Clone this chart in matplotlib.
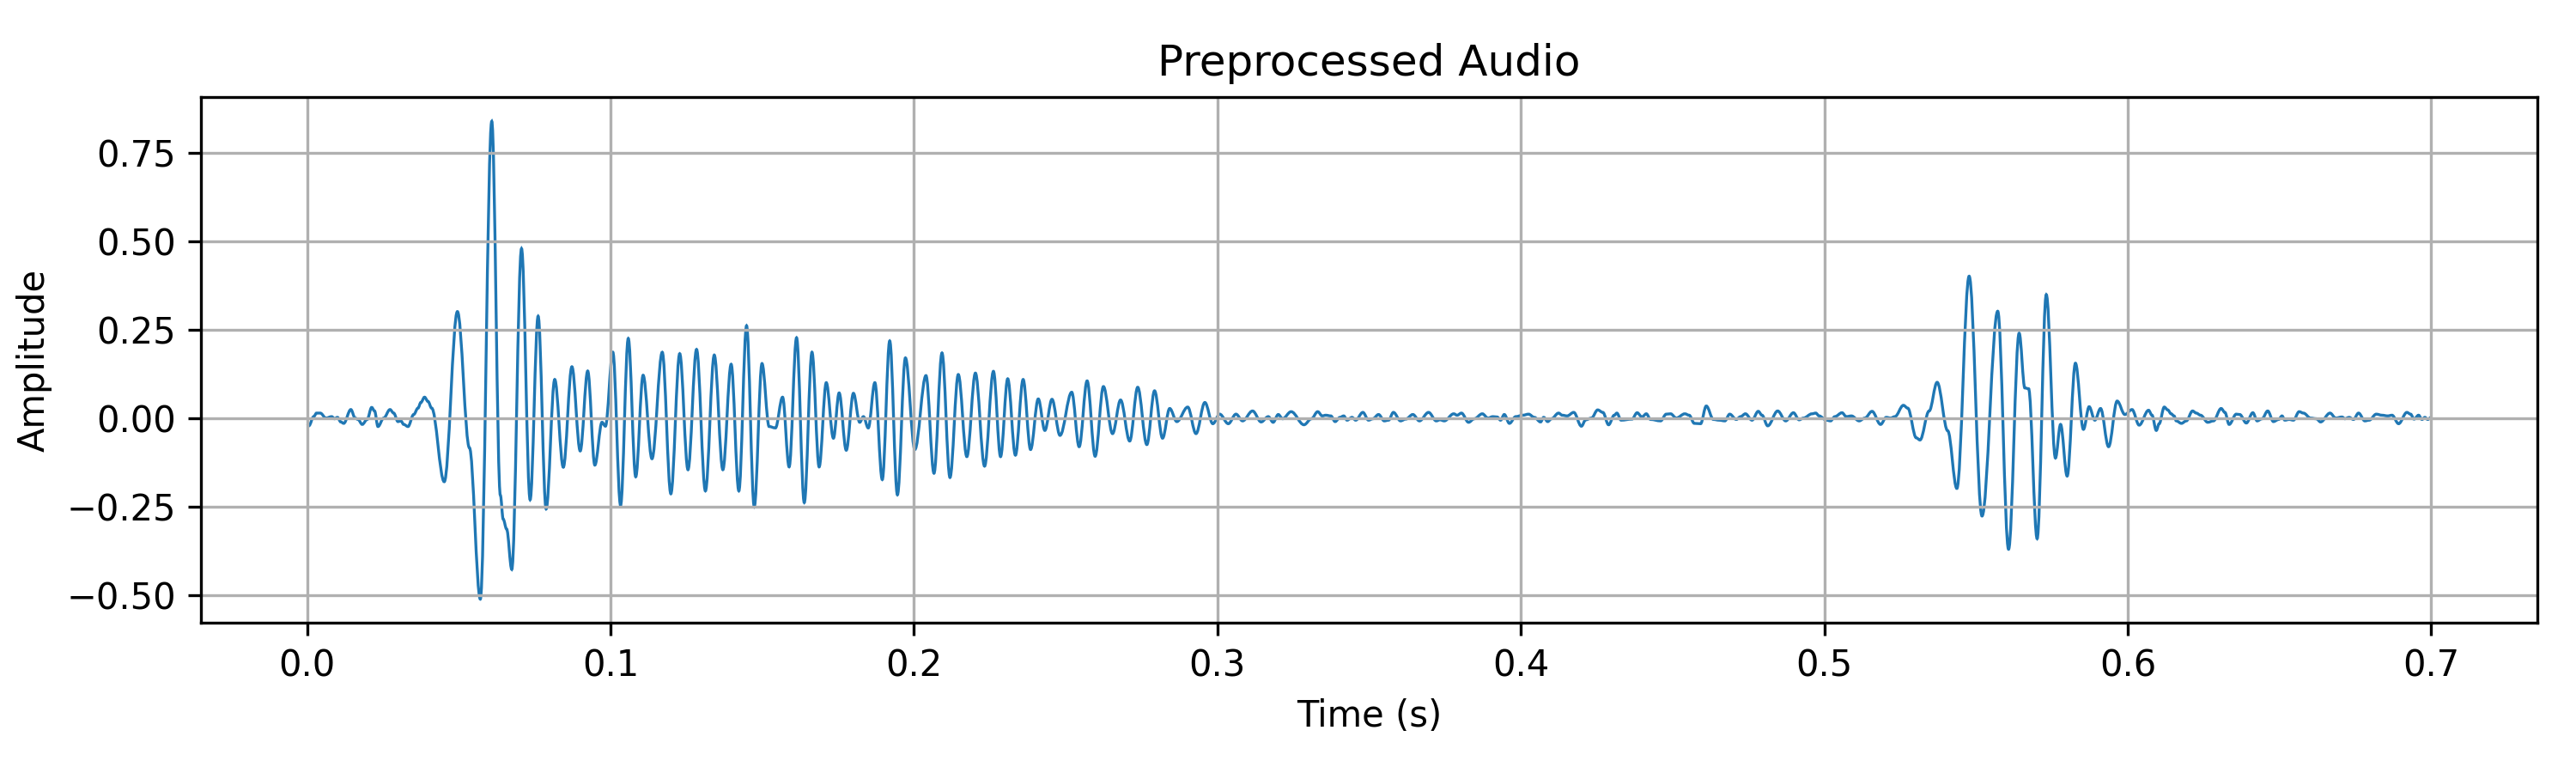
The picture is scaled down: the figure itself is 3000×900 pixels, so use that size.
import matplotlib
matplotlib.use("Agg")
import matplotlib.pyplot as plt
from matplotlib.path import Path
from matplotlib.patches import PathPatch
import numpy as np

# waveform turning points (time in ms, amplitude)
onset_t = [0.0, 0.56, 2.17, 3.11, 4.33, 6.21, 8.10, 9.04, 9.98, 11.11, 12.05, 14.41, 15.82, 16.76,
           18.17, 19.77, 21.28, 22.22, 23.35, 25.24, 27.31, 28.53, 29.94, 30.89, 31.83, 33.24,
           35.12, 36.53, 37.48, 38.70, 39.83, 41.05]
onset_a = [-0.016, -0.022, 0.004, 0.014, 0.014, 0.000, 0.004, -0.002, 0.002, -0.011, -0.015, 0.024,
           0.000, -0.004, -0.018, -0.004, 0.030, 0.020, -0.024, 0.000, 0.024, 0.014, -0.010, -0.008,
           -0.018, -0.024, 0.010, 0.028, 0.044, 0.059, 0.047, 0.028]

burst1_t = [45.19, 49.53, 53.49, 57.08, 60.85, 63.68, 64.62, 65.75, 67.45, 70.66, 73.49, 76.13,
            78.77, 81.60, 84.43, 87.26, 90.00, 92.47, 94.82, 97.18, 98.31, 100.75, 103.30, 105.84,
            108.29, 110.73, 113.65, 117.04, 119.87, 122.79, 125.52, 128.34, 131.26, 134.18, 137.01,
            139.74, 142.28, 144.82, 147.36, 149.91, 152.26, 154.33, 156.69, 158.85, 161.30, 163.84,
            166.38, 168.74, 171.09, 173.45, 175.33, 177.68, 180.04, 182.11, 183.33, 184.93, 187.10,
            189.55, 192.00, 194.54, 197.18, 200.28, 203.95, 206.59, 209.23, 211.86, 214.60, 217.42,
            220.24, 223.26, 226.18, 228.53, 230.89, 233.43, 235.97, 238.42, 240.96, 243.13, 245.48,
            248.12, 251.98, 254.43, 257.06, 259.70, 262.43, 265.44, 268.08, 271.09, 273.73, 276.74,
            279.28, 281.92, 284.27, 286.63, 290.21, 292.94, 295.86, 298.49]
burst1_a = [-0.180, 0.301, -0.084, -0.512, 0.839, -0.218, -0.286, -0.314, -0.428, 0.479, -0.231,
            0.288, -0.257, 0.109, -0.139, 0.145, -0.093, 0.133, -0.133, -0.012, -0.023, 0.186,
            -0.247, 0.225, -0.166, 0.121, -0.115, 0.186, -0.214, 0.182, -0.146, 0.194, -0.206,
            0.178, -0.146, 0.152, -0.206, 0.261, -0.251, 0.154, -0.024, -0.028, 0.059, -0.138,
            0.227, -0.239, 0.186, -0.138, 0.100, -0.057, 0.071, -0.091, 0.070, -0.012, 0.004,
            -0.028, 0.100, -0.174, 0.218, -0.217, 0.170, -0.089, 0.120, -0.156, 0.184, -0.168,
            0.123, -0.109, 0.127, -0.136, 0.132, -0.109, 0.111, -0.105, 0.109, -0.089, 0.054,
            -0.035, 0.053, -0.049, 0.073, -0.081, 0.105, -0.108, 0.089, -0.044, 0.051, -0.065,
            0.087, -0.075, 0.077, -0.057, 0.027, -0.010, 0.031, -0.044, 0.044, -0.016]

quiet_t = [300.75, 303.58, 306.12, 308.29, 311.58, 314.41, 316.76, 318.36, 320.06, 321.47, 324.29,
           328.53, 330.98, 333.05, 334.56, 335.69, 337.38, 338.79, 340.40, 341.62, 342.75, 344.35,
           345.57, 347.93, 349.81, 351.22, 353.11, 354.99, 356.40, 358.00, 360.36, 362.05, 364.41,
           366.57, 369.59, 372.13, 373.35, 374.76, 377.87, 379.00, 380.41, 382.77, 384.65, 387.29,
           389.17, 390.77, 392.18, 393.31, 394.54, 396.23, 398.31, 400.66, 402.54, 404.43, 406.50,
           407.53, 408.85, 410.08, 412.43, 413.65, 415.25, 417.42, 419.96, 421.37, 423.26, 425.33,
           427.02, 428.91, 430.79, 431.64, 433.05, 436.63, 438.32, 439.92, 441.34, 442.75, 446.05,
           447.93, 449.34, 451.22, 454.05, 455.46, 457.16, 459.23, 461.11, 463.47, 465.35, 467.23,
           468.83, 471.00, 472.41, 474.01, 476.18, 478.25, 479.47, 481.36, 484.65, 487.29, 489.83,
           491.71, 493.13, 495.95, 497.18, 498.31, 500.66, 502.07, 503.48, 505.84, 507.25, 508.95,
           511.49, 513.37, 515.73, 518.55, 520.43, 521.85, 523.26, 526.08, 527.50]
quiet_a = [0.011, -0.016, 0.011, -0.008, 0.020, -0.011, 0.004, -0.012, 0.010, -0.002, 0.018,
           -0.019, -0.002, 0.018, 0.006, 0.008, 0.006, -0.010, 0.002, 0.006, -0.006, 0.002,
           -0.006, 0.016, -0.006, -0.002, 0.010, -0.008, -0.006, 0.016, -0.008, -0.003, 0.010,
           -0.008, 0.016, -0.008, -0.005, -0.008, 0.012, 0.008, 0.014, -0.012, -0.002, 0.012,
           0.000, 0.004, 0.003, -0.006, 0.010, -0.015, 0.004, 0.008, 0.011, 0.002, -0.011,
           0.002, -0.010, -0.002, 0.014, 0.008, 0.006, 0.016, -0.023, -0.005, 0.000, 0.023,
           0.016, -0.019, 0.008, 0.014, -0.006, -0.003, 0.015, 0.003, 0.012, -0.004, -0.008,
           0.011, 0.012, 0.000, 0.012, 0.008, -0.015, -0.016, 0.034, -0.004, -0.006, -0.008,
           0.011, -0.004, 0.004, 0.012, -0.006, 0.019, 0.008, -0.022, 0.020, -0.008, 0.015,
           -0.005, 0.000, 0.012, 0.014, 0.006, -0.006, -0.008, 0.004, 0.015, 0.004, 0.006,
           -0.008, 0.000, 0.019, -0.018, 0.002, 0.000, 0.004, 0.036, 0.028]

burst2_t = [530.32, 531.54, 534.56, 537.19, 540.68, 543.69, 547.74, 551.98, 557.16, 560.73, 564.22,
            566.10, 567.33, 570.15, 573.16, 576.18, 577.87, 580.04, 582.77, 585.40, 587.29, 589.17,
            591.05, 593.69, 596.52, 599.06, 601.41, 603.77]
burst2_a = [-0.056, -0.062, 0.020, 0.101, -0.036, -0.199, 0.401, -0.277, 0.302, -0.371, 0.240,
            0.085, 0.083, -0.341, 0.349, -0.113, -0.018, -0.164, 0.155, -0.032, 0.032, -0.006,
            0.027, -0.081, 0.048, 0.010, 0.024, -0.020]

tail_t = [606.87, 608.00, 609.42, 610.36, 612.05, 613.18, 614.31, 615.25, 616.01, 617.70, 619.30,
          621.37, 622.60, 624.01, 626.37, 628.25, 630.79, 632.02, 633.43, 635.78, 636.91, 639.08,
          641.24, 642.66, 644.26, 646.14, 648.02, 649.72, 650.85, 651.79, 653.20, 654.61, 656.50,
          657.91, 660.26, 662.15, 663.56, 666.67, 668.55, 670.62, 671.56, 672.98, 674.39, 676.08,
          678.15, 679.57, 681.92, 683.80, 685.69, 687.10, 689.27, 692.00, 693.22, 694.35, 695.86,
          696.99, 697.93, 698.87, 700.00]
tail_a = [0.022, 0.008, -0.035, -0.016, 0.031, 0.023, 0.012, 0.006, -0.008, -0.015, -0.008,
          0.020, 0.014, 0.008, -0.012, -0.008, 0.027, 0.016, -0.018, 0.011, 0.010, -0.014,
          0.015, -0.008, -0.002, 0.020, -0.010, -0.004, 0.006, -0.006, -0.004, -0.006, 0.018,
          0.014, 0.000, -0.002, -0.011, 0.014, 0.000, 0.003, -0.002, 0.002, -0.004, 0.014,
          -0.008, -0.006, 0.011, 0.008, 0.006, 0.008, -0.016, 0.016, 0.011, -0.003, 0.008,
          -0.004, 0.002, -0.004, 0.002]

time_s = np.array(onset_t + burst1_t + quiet_t + burst2_t + tail_t) / 1000.0
amplitude = np.array(onset_a + burst1_a + quiet_a + burst2_a + tail_a)

# join the turning points with cubic bezier segments (flat handles at each point)
# so the trace looks like a smooth waveform instead of a zigzag
verts = [(time_s[0], amplitude[0])]
codes = [Path.MOVETO]
for i in range(len(time_s) - 1):
    t0, t1 = time_s[i], time_s[i + 1]
    a0, a1 = amplitude[i], amplitude[i + 1]
    dt = (t1 - t0) * 0.36
    verts += [(t0 + dt, a0), (t1 - dt, a1), (t1, a1)]
    codes += [Path.CURVE4] * 3

fig, ax = plt.subplots(figsize=(10, 3), dpi=300)
wave = PathPatch(Path(verts, codes), facecolor="none", edgecolor="C0", linewidth=0.8)
ax.add_patch(wave)
ax.autoscale_view()
ax.set_title("Preprocessed Audio")
ax.set_xlabel("Time (s)")
ax.set_ylabel("Amplitude")
ax.grid(True)
fig.subplots_adjust(left=0.078, right=0.985, top=0.874, bottom=0.194)
fig.savefig("out.png", dpi=300)
plt.close(fig)
